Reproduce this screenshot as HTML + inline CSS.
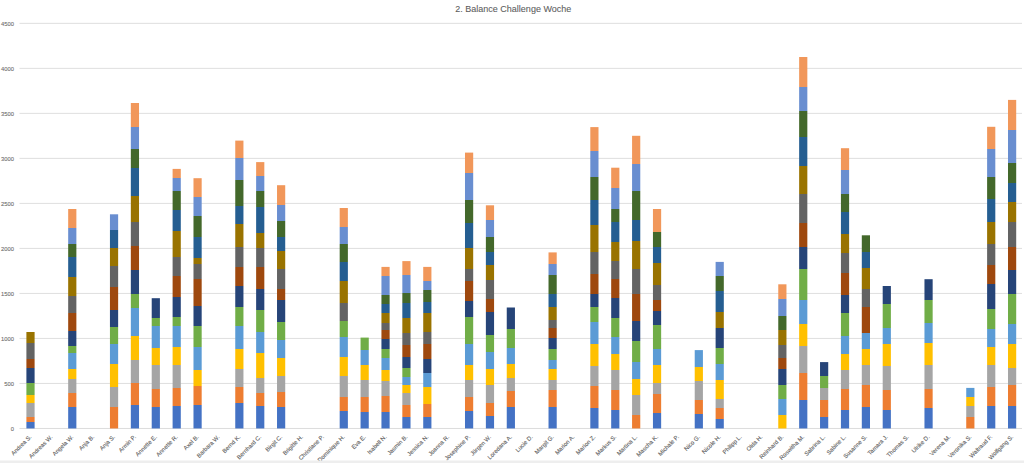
<!DOCTYPE html><html><head><meta charset="utf-8"><style>html,body{margin:0;padding:0;background:#fff;width:1024px;height:463px;overflow:hidden}svg{display:block}text{font-family:"Liberation Sans",sans-serif;stroke:#808080;stroke-width:0.1px}</style></head><body>
<svg width="1024" height="463" viewBox="0 0 1024 463">
<rect x="0" y="0" width="1024" height="463" fill="#fff"/>
<text x="513.3" y="11.6" font-size="9" fill="#595959" text-anchor="middle">2. Balance Challenge Woche</text>
<rect x="19.50" y="427.95" width="1002.50" height="1" fill="#dcdcdc"/>
<text x="13.9" y="430.90" font-size="5.8" fill="#686868" text-anchor="end" stroke="none">0</text>
<rect x="19.50" y="382.94" width="1002.50" height="1" fill="#dfdfdf"/>
<text x="13.9" y="385.89" font-size="5.8" fill="#686868" text-anchor="end" stroke="none">500</text>
<rect x="19.50" y="337.93" width="1002.50" height="1" fill="#dfdfdf"/>
<text x="13.9" y="340.88" font-size="5.8" fill="#686868" text-anchor="end" stroke="none">1000</text>
<rect x="19.50" y="292.92" width="1002.50" height="1" fill="#dfdfdf"/>
<text x="13.9" y="295.87" font-size="5.8" fill="#686868" text-anchor="end" stroke="none">1500</text>
<rect x="19.50" y="247.91" width="1002.50" height="1" fill="#dfdfdf"/>
<text x="13.9" y="250.86" font-size="5.8" fill="#686868" text-anchor="end" stroke="none">2000</text>
<rect x="19.50" y="202.89" width="1002.50" height="1" fill="#dfdfdf"/>
<text x="13.9" y="205.84" font-size="5.8" fill="#686868" text-anchor="end" stroke="none">2500</text>
<rect x="19.50" y="157.88" width="1002.50" height="1" fill="#dfdfdf"/>
<text x="13.9" y="160.83" font-size="5.8" fill="#686868" text-anchor="end" stroke="none">3000</text>
<rect x="19.50" y="112.87" width="1002.50" height="1" fill="#dfdfdf"/>
<text x="13.9" y="115.82" font-size="5.8" fill="#686868" text-anchor="end" stroke="none">3500</text>
<rect x="19.50" y="67.86" width="1002.50" height="1" fill="#dfdfdf"/>
<text x="13.9" y="70.81" font-size="5.8" fill="#686868" text-anchor="end" stroke="none">4000</text>
<rect x="19.50" y="22.85" width="1002.50" height="1" fill="#dfdfdf"/>
<text x="13.9" y="25.80" font-size="5.8" fill="#686868" text-anchor="end" stroke="none">4500</text>
<linearGradient id="g0" gradientUnits="userSpaceOnUse" x1="0" y1="428.45" x2="0" y2="332.00"><stop offset="0.0000" stop-color="#4472C4"/><stop offset="0.0648" stop-color="#4472C4"/><stop offset="0.0648" stop-color="#ED7D31"/><stop offset="0.1218" stop-color="#ED7D31"/><stop offset="0.1218" stop-color="#A5A5A5"/><stop offset="0.2597" stop-color="#A5A5A5"/><stop offset="0.2597" stop-color="#FFC000"/><stop offset="0.3447" stop-color="#FFC000"/><stop offset="0.3447" stop-color="#70AD47"/><stop offset="0.4671" stop-color="#70AD47"/><stop offset="0.4671" stop-color="#264478"/><stop offset="0.6309" stop-color="#264478"/><stop offset="0.6309" stop-color="#9E480E"/><stop offset="0.7190" stop-color="#9E480E"/><stop offset="0.7190" stop-color="#636363"/><stop offset="0.8828" stop-color="#636363"/><stop offset="0.8828" stop-color="#997300"/><stop offset="1.0000" stop-color="#997300"/></linearGradient>
<rect x="26.40" y="332.00" width="8.20" height="96.45" fill="url(#g0)"/>
<linearGradient id="g2" gradientUnits="userSpaceOnUse" x1="0" y1="428.45" x2="0" y2="209.00"><stop offset="0.0000" stop-color="#4472C4"/><stop offset="0.0991" stop-color="#4472C4"/><stop offset="0.0991" stop-color="#ED7D31"/><stop offset="0.1597" stop-color="#ED7D31"/><stop offset="0.1597" stop-color="#A5A5A5"/><stop offset="0.2249" stop-color="#A5A5A5"/><stop offset="0.2249" stop-color="#FFC000"/><stop offset="0.2704" stop-color="#FFC000"/><stop offset="0.2704" stop-color="#5B9BD5"/><stop offset="0.3447" stop-color="#5B9BD5"/><stop offset="0.3447" stop-color="#70AD47"/><stop offset="0.3766" stop-color="#70AD47"/><stop offset="0.3766" stop-color="#264478"/><stop offset="0.4422" stop-color="#264478"/><stop offset="0.4422" stop-color="#9E480E"/><stop offset="0.5247" stop-color="#9E480E"/><stop offset="0.5247" stop-color="#636363"/><stop offset="0.6036" stop-color="#636363"/><stop offset="0.6036" stop-color="#997300"/><stop offset="0.6883" stop-color="#997300"/><stop offset="0.6883" stop-color="#255E91"/><stop offset="0.7794" stop-color="#255E91"/><stop offset="0.7794" stop-color="#43682B"/><stop offset="0.8423" stop-color="#43682B"/><stop offset="0.8423" stop-color="#698ED0"/><stop offset="0.9130" stop-color="#698ED0"/><stop offset="0.9130" stop-color="#F1975A"/><stop offset="1.0000" stop-color="#F1975A"/></linearGradient>
<rect x="68.17" y="209.00" width="8.20" height="219.45" fill="url(#g2)"/>
<linearGradient id="g4" gradientUnits="userSpaceOnUse" x1="0" y1="428.45" x2="0" y2="214.30"><stop offset="0.0000" stop-color="#ED7D31"/><stop offset="0.0992" stop-color="#ED7D31"/><stop offset="0.0992" stop-color="#A5A5A5"/><stop offset="0.1926" stop-color="#A5A5A5"/><stop offset="0.1926" stop-color="#FFC000"/><stop offset="0.3014" stop-color="#FFC000"/><stop offset="0.3014" stop-color="#5B9BD5"/><stop offset="0.3939" stop-color="#5B9BD5"/><stop offset="0.3939" stop-color="#70AD47"/><stop offset="0.4714" stop-color="#70AD47"/><stop offset="0.4714" stop-color="#264478"/><stop offset="0.5517" stop-color="#264478"/><stop offset="0.5517" stop-color="#9E480E"/><stop offset="0.6615" stop-color="#9E480E"/><stop offset="0.6615" stop-color="#636363"/><stop offset="0.7604" stop-color="#636363"/><stop offset="0.7604" stop-color="#997300"/><stop offset="0.8431" stop-color="#997300"/><stop offset="0.8431" stop-color="#255E91"/><stop offset="0.9276" stop-color="#255E91"/><stop offset="0.9276" stop-color="#698ED0"/><stop offset="1.0000" stop-color="#698ED0"/></linearGradient>
<rect x="109.94" y="214.30" width="8.20" height="214.15" fill="url(#g4)"/>
<linearGradient id="g5" gradientUnits="userSpaceOnUse" x1="0" y1="428.45" x2="0" y2="103.00"><stop offset="0.0000" stop-color="#4472C4"/><stop offset="0.0708" stop-color="#4472C4"/><stop offset="0.0708" stop-color="#ED7D31"/><stop offset="0.1400" stop-color="#ED7D31"/><stop offset="0.1400" stop-color="#A5A5A5"/><stop offset="0.2100" stop-color="#A5A5A5"/><stop offset="0.2100" stop-color="#FFC000"/><stop offset="0.2841" stop-color="#FFC000"/><stop offset="0.2841" stop-color="#5B9BD5"/><stop offset="0.3716" stop-color="#5B9BD5"/><stop offset="0.3716" stop-color="#70AD47"/><stop offset="0.4119" stop-color="#70AD47"/><stop offset="0.4119" stop-color="#264478"/><stop offset="0.4872" stop-color="#264478"/><stop offset="0.4872" stop-color="#9E480E"/><stop offset="0.5618" stop-color="#9E480E"/><stop offset="0.5618" stop-color="#636363"/><stop offset="0.6356" stop-color="#636363"/><stop offset="0.6356" stop-color="#997300"/><stop offset="0.7152" stop-color="#997300"/><stop offset="0.7152" stop-color="#255E91"/><stop offset="0.7997" stop-color="#255E91"/><stop offset="0.7997" stop-color="#43682B"/><stop offset="0.8574" stop-color="#43682B"/><stop offset="0.8574" stop-color="#698ED0"/><stop offset="0.9259" stop-color="#698ED0"/><stop offset="0.9259" stop-color="#F1975A"/><stop offset="1.0000" stop-color="#F1975A"/></linearGradient>
<rect x="130.83" y="103.00" width="8.20" height="325.45" fill="url(#g5)"/>
<linearGradient id="g6" gradientUnits="userSpaceOnUse" x1="0" y1="428.45" x2="0" y2="298.20"><stop offset="0.0000" stop-color="#4472C4"/><stop offset="0.1670" stop-color="#4472C4"/><stop offset="0.1670" stop-color="#ED7D31"/><stop offset="0.3036" stop-color="#ED7D31"/><stop offset="0.3036" stop-color="#A5A5A5"/><stop offset="0.4864" stop-color="#A5A5A5"/><stop offset="0.4864" stop-color="#FFC000"/><stop offset="0.6207" stop-color="#FFC000"/><stop offset="0.6207" stop-color="#5B9BD5"/><stop offset="0.7835" stop-color="#5B9BD5"/><stop offset="0.7835" stop-color="#70AD47"/><stop offset="0.8518" stop-color="#70AD47"/><stop offset="0.8518" stop-color="#264478"/><stop offset="1.0000" stop-color="#264478"/></linearGradient>
<rect x="151.71" y="298.20" width="8.20" height="130.25" fill="url(#g6)"/>
<linearGradient id="g7" gradientUnits="userSpaceOnUse" x1="0" y1="428.45" x2="0" y2="168.90"><stop offset="0.0000" stop-color="#4472C4"/><stop offset="0.0869" stop-color="#4472C4"/><stop offset="0.0869" stop-color="#ED7D31"/><stop offset="0.1562" stop-color="#ED7D31"/><stop offset="0.1562" stop-color="#A5A5A5"/><stop offset="0.2441" stop-color="#A5A5A5"/><stop offset="0.2441" stop-color="#FFC000"/><stop offset="0.3154" stop-color="#FFC000"/><stop offset="0.3154" stop-color="#5B9BD5"/><stop offset="0.3947" stop-color="#5B9BD5"/><stop offset="0.3947" stop-color="#70AD47"/><stop offset="0.4294" stop-color="#70AD47"/><stop offset="0.4294" stop-color="#264478"/><stop offset="0.5065" stop-color="#264478"/><stop offset="0.5065" stop-color="#9E480E"/><stop offset="0.5885" stop-color="#9E480E"/><stop offset="0.5885" stop-color="#636363"/><stop offset="0.6590" stop-color="#636363"/><stop offset="0.6590" stop-color="#997300"/><stop offset="0.7604" stop-color="#997300"/><stop offset="0.7604" stop-color="#255E91"/><stop offset="0.8424" stop-color="#255E91"/><stop offset="0.8424" stop-color="#43682B"/><stop offset="0.9160" stop-color="#43682B"/><stop offset="0.9160" stop-color="#698ED0"/><stop offset="0.9642" stop-color="#698ED0"/><stop offset="0.9642" stop-color="#F1975A"/><stop offset="1.0000" stop-color="#F1975A"/></linearGradient>
<rect x="172.60" y="168.90" width="8.20" height="259.55" fill="url(#g7)"/>
<linearGradient id="g8" gradientUnits="userSpaceOnUse" x1="0" y1="428.45" x2="0" y2="178.20"><stop offset="0.0000" stop-color="#4472C4"/><stop offset="0.0949" stop-color="#4472C4"/><stop offset="0.0949" stop-color="#ED7D31"/><stop offset="0.1700" stop-color="#ED7D31"/><stop offset="0.1700" stop-color="#FFC000"/><stop offset="0.2320" stop-color="#FFC000"/><stop offset="0.2320" stop-color="#5B9BD5"/><stop offset="0.3271" stop-color="#5B9BD5"/><stop offset="0.3271" stop-color="#70AD47"/><stop offset="0.4082" stop-color="#70AD47"/><stop offset="0.4082" stop-color="#264478"/><stop offset="0.4905" stop-color="#264478"/><stop offset="0.4905" stop-color="#9E480E"/><stop offset="0.5956" stop-color="#9E480E"/><stop offset="0.5956" stop-color="#636363"/><stop offset="0.6567" stop-color="#636363"/><stop offset="0.6567" stop-color="#997300"/><stop offset="0.6807" stop-color="#997300"/><stop offset="0.6807" stop-color="#255E91"/><stop offset="0.7658" stop-color="#255E91"/><stop offset="0.7658" stop-color="#43682B"/><stop offset="0.8490" stop-color="#43682B"/><stop offset="0.8490" stop-color="#698ED0"/><stop offset="0.9257" stop-color="#698ED0"/><stop offset="0.9257" stop-color="#F1975A"/><stop offset="1.0000" stop-color="#F1975A"/></linearGradient>
<rect x="193.48" y="178.20" width="8.20" height="250.25" fill="url(#g8)"/>
<linearGradient id="g10" gradientUnits="userSpaceOnUse" x1="0" y1="428.45" x2="0" y2="140.60"><stop offset="0.0000" stop-color="#4472C4"/><stop offset="0.0895" stop-color="#4472C4"/><stop offset="0.0895" stop-color="#ED7D31"/><stop offset="0.1454" stop-color="#ED7D31"/><stop offset="0.1454" stop-color="#A5A5A5"/><stop offset="0.2062" stop-color="#A5A5A5"/><stop offset="0.2062" stop-color="#FFC000"/><stop offset="0.2757" stop-color="#FFC000"/><stop offset="0.2757" stop-color="#5B9BD5"/><stop offset="0.3566" stop-color="#5B9BD5"/><stop offset="0.3566" stop-color="#70AD47"/><stop offset="0.4202" stop-color="#70AD47"/><stop offset="0.4202" stop-color="#264478"/><stop offset="0.4959" stop-color="#264478"/><stop offset="0.4959" stop-color="#9E480E"/><stop offset="0.5595" stop-color="#9E480E"/><stop offset="0.5595" stop-color="#636363"/><stop offset="0.6290" stop-color="#636363"/><stop offset="0.6290" stop-color="#997300"/><stop offset="0.7092" stop-color="#997300"/><stop offset="0.7092" stop-color="#255E91"/><stop offset="0.7745" stop-color="#255E91"/><stop offset="0.7745" stop-color="#43682B"/><stop offset="0.8642" stop-color="#43682B"/><stop offset="0.8642" stop-color="#698ED0"/><stop offset="0.9392" stop-color="#698ED0"/><stop offset="0.9392" stop-color="#F1975A"/><stop offset="1.0000" stop-color="#F1975A"/></linearGradient>
<rect x="235.25" y="140.60" width="8.20" height="287.85" fill="url(#g10)"/>
<linearGradient id="g11" gradientUnits="userSpaceOnUse" x1="0" y1="428.45" x2="0" y2="162.10"><stop offset="0.0000" stop-color="#4472C4"/><stop offset="0.0828" stop-color="#4472C4"/><stop offset="0.0828" stop-color="#ED7D31"/><stop offset="0.1316" stop-color="#ED7D31"/><stop offset="0.1316" stop-color="#A5A5A5"/><stop offset="0.1879" stop-color="#A5A5A5"/><stop offset="0.1879" stop-color="#FFC000"/><stop offset="0.2840" stop-color="#FFC000"/><stop offset="0.2840" stop-color="#5B9BD5"/><stop offset="0.3636" stop-color="#5B9BD5"/><stop offset="0.3636" stop-color="#70AD47"/><stop offset="0.4447" stop-color="#70AD47"/><stop offset="0.4447" stop-color="#264478"/><stop offset="0.5228" stop-color="#264478"/><stop offset="0.5228" stop-color="#9E480E"/><stop offset="0.6065" stop-color="#9E480E"/><stop offset="0.6065" stop-color="#636363"/><stop offset="0.6771" stop-color="#636363"/><stop offset="0.6771" stop-color="#997300"/><stop offset="0.7334" stop-color="#997300"/><stop offset="0.7334" stop-color="#255E91"/><stop offset="0.8333" stop-color="#255E91"/><stop offset="0.8333" stop-color="#43682B"/><stop offset="0.8926" stop-color="#43682B"/><stop offset="0.8926" stop-color="#698ED0"/><stop offset="0.9463" stop-color="#698ED0"/><stop offset="0.9463" stop-color="#F1975A"/><stop offset="1.0000" stop-color="#F1975A"/></linearGradient>
<rect x="256.13" y="162.10" width="8.20" height="266.35" fill="url(#g11)"/>
<linearGradient id="g12" gradientUnits="userSpaceOnUse" x1="0" y1="428.45" x2="0" y2="185.20"><stop offset="0.0000" stop-color="#4472C4"/><stop offset="0.0894" stop-color="#4472C4"/><stop offset="0.0894" stop-color="#ED7D31"/><stop offset="0.1511" stop-color="#ED7D31"/><stop offset="0.1511" stop-color="#A5A5A5"/><stop offset="0.2140" stop-color="#A5A5A5"/><stop offset="0.2140" stop-color="#FFC000"/><stop offset="0.2884" stop-color="#FFC000"/><stop offset="0.2884" stop-color="#5B9BD5"/><stop offset="0.3620" stop-color="#5B9BD5"/><stop offset="0.3620" stop-color="#70AD47"/><stop offset="0.4376" stop-color="#70AD47"/><stop offset="0.4376" stop-color="#264478"/><stop offset="0.5281" stop-color="#264478"/><stop offset="0.5281" stop-color="#9E480E"/><stop offset="0.5753" stop-color="#9E480E"/><stop offset="0.5753" stop-color="#636363"/><stop offset="0.6571" stop-color="#636363"/><stop offset="0.6571" stop-color="#997300"/><stop offset="0.7311" stop-color="#997300"/><stop offset="0.7311" stop-color="#255E91"/><stop offset="0.7879" stop-color="#255E91"/><stop offset="0.7879" stop-color="#43682B"/><stop offset="0.8528" stop-color="#43682B"/><stop offset="0.8528" stop-color="#698ED0"/><stop offset="0.9174" stop-color="#698ED0"/><stop offset="0.9174" stop-color="#F1975A"/><stop offset="1.0000" stop-color="#F1975A"/></linearGradient>
<rect x="277.02" y="185.20" width="8.20" height="243.25" fill="url(#g12)"/>
<linearGradient id="g15" gradientUnits="userSpaceOnUse" x1="0" y1="428.45" x2="0" y2="208.00"><stop offset="0.0000" stop-color="#4472C4"/><stop offset="0.0773" stop-color="#4472C4"/><stop offset="0.0773" stop-color="#ED7D31"/><stop offset="0.1418" stop-color="#ED7D31"/><stop offset="0.1418" stop-color="#A5A5A5"/><stop offset="0.2361" stop-color="#A5A5A5"/><stop offset="0.2361" stop-color="#FFC000"/><stop offset="0.3259" stop-color="#FFC000"/><stop offset="0.3259" stop-color="#5B9BD5"/><stop offset="0.4166" stop-color="#5B9BD5"/><stop offset="0.4166" stop-color="#70AD47"/><stop offset="0.4874" stop-color="#70AD47"/><stop offset="0.4874" stop-color="#636363"/><stop offset="0.5691" stop-color="#636363"/><stop offset="0.5691" stop-color="#997300"/><stop offset="0.6680" stop-color="#997300"/><stop offset="0.6680" stop-color="#255E91"/><stop offset="0.7569" stop-color="#255E91"/><stop offset="0.7569" stop-color="#43682B"/><stop offset="0.8362" stop-color="#43682B"/><stop offset="0.8362" stop-color="#698ED0"/><stop offset="0.9147" stop-color="#698ED0"/><stop offset="0.9147" stop-color="#F1975A"/><stop offset="1.0000" stop-color="#F1975A"/></linearGradient>
<rect x="339.68" y="208.00" width="8.20" height="220.45" fill="url(#g15)"/>
<linearGradient id="g16" gradientUnits="userSpaceOnUse" x1="0" y1="428.45" x2="0" y2="337.60"><stop offset="0.0000" stop-color="#4472C4"/><stop offset="0.1789" stop-color="#4472C4"/><stop offset="0.1789" stop-color="#ED7D31"/><stop offset="0.3440" stop-color="#ED7D31"/><stop offset="0.3440" stop-color="#A5A5A5"/><stop offset="0.5322" stop-color="#A5A5A5"/><stop offset="0.5322" stop-color="#FFC000"/><stop offset="0.7028" stop-color="#FFC000"/><stop offset="0.7028" stop-color="#5B9BD5"/><stop offset="0.8679" stop-color="#5B9BD5"/><stop offset="0.8679" stop-color="#70AD47"/><stop offset="1.0000" stop-color="#70AD47"/></linearGradient>
<rect x="360.56" y="337.60" width="8.20" height="90.85" fill="url(#g16)"/>
<linearGradient id="g17" gradientUnits="userSpaceOnUse" x1="0" y1="428.45" x2="0" y2="266.90"><stop offset="0.0000" stop-color="#4472C4"/><stop offset="0.1006" stop-color="#4472C4"/><stop offset="0.1006" stop-color="#ED7D31"/><stop offset="0.2015" stop-color="#ED7D31"/><stop offset="0.2015" stop-color="#A5A5A5"/><stop offset="0.2943" stop-color="#A5A5A5"/><stop offset="0.2943" stop-color="#FFC000"/><stop offset="0.3593" stop-color="#FFC000"/><stop offset="0.3593" stop-color="#5B9BD5"/><stop offset="0.4373" stop-color="#5B9BD5"/><stop offset="0.4373" stop-color="#70AD47"/><stop offset="0.4912" stop-color="#70AD47"/><stop offset="0.4912" stop-color="#264478"/><stop offset="0.5537" stop-color="#264478"/><stop offset="0.5537" stop-color="#9E480E"/><stop offset="0.6069" stop-color="#9E480E"/><stop offset="0.6069" stop-color="#636363"/><stop offset="0.6534" stop-color="#636363"/><stop offset="0.6534" stop-color="#997300"/><stop offset="0.7153" stop-color="#997300"/><stop offset="0.7153" stop-color="#255E91"/><stop offset="0.7673" stop-color="#255E91"/><stop offset="0.7673" stop-color="#43682B"/><stop offset="0.8248" stop-color="#43682B"/><stop offset="0.8248" stop-color="#698ED0"/><stop offset="0.9455" stop-color="#698ED0"/><stop offset="0.9455" stop-color="#F1975A"/><stop offset="1.0000" stop-color="#F1975A"/></linearGradient>
<rect x="381.44" y="266.90" width="8.20" height="161.55" fill="url(#g17)"/>
<linearGradient id="g18" gradientUnits="userSpaceOnUse" x1="0" y1="428.45" x2="0" y2="261.10"><stop offset="0.0000" stop-color="#4472C4"/><stop offset="0.0672" stop-color="#4472C4"/><stop offset="0.0672" stop-color="#ED7D31"/><stop offset="0.1419" stop-color="#ED7D31"/><stop offset="0.1419" stop-color="#A5A5A5"/><stop offset="0.2094" stop-color="#A5A5A5"/><stop offset="0.2094" stop-color="#FFC000"/><stop offset="0.2620" stop-color="#FFC000"/><stop offset="0.2620" stop-color="#5B9BD5"/><stop offset="0.3068" stop-color="#5B9BD5"/><stop offset="0.3068" stop-color="#70AD47"/><stop offset="0.3636" stop-color="#70AD47"/><stop offset="0.3636" stop-color="#264478"/><stop offset="0.4264" stop-color="#264478"/><stop offset="0.4264" stop-color="#9E480E"/><stop offset="0.4969" stop-color="#9E480E"/><stop offset="0.4969" stop-color="#636363"/><stop offset="0.5686" stop-color="#636363"/><stop offset="0.5686" stop-color="#997300"/><stop offset="0.6588" stop-color="#997300"/><stop offset="0.6588" stop-color="#255E91"/><stop offset="0.7526" stop-color="#255E91"/><stop offset="0.7526" stop-color="#43682B"/><stop offset="0.8112" stop-color="#43682B"/><stop offset="0.8112" stop-color="#698ED0"/><stop offset="0.9175" stop-color="#698ED0"/><stop offset="0.9175" stop-color="#F1975A"/><stop offset="1.0000" stop-color="#F1975A"/></linearGradient>
<rect x="402.33" y="261.10" width="8.20" height="167.35" fill="url(#g18)"/>
<linearGradient id="g19" gradientUnits="userSpaceOnUse" x1="0" y1="428.45" x2="0" y2="266.90"><stop offset="0.0000" stop-color="#4472C4"/><stop offset="0.0696" stop-color="#4472C4"/><stop offset="0.0696" stop-color="#ED7D31"/><stop offset="0.1501" stop-color="#ED7D31"/><stop offset="0.1501" stop-color="#FFC000"/><stop offset="0.2591" stop-color="#FFC000"/><stop offset="0.2591" stop-color="#5B9BD5"/><stop offset="0.3408" stop-color="#5B9BD5"/><stop offset="0.3408" stop-color="#264478"/><stop offset="0.4293" stop-color="#264478"/><stop offset="0.4293" stop-color="#9E480E"/><stop offset="0.5221" stop-color="#9E480E"/><stop offset="0.5221" stop-color="#636363"/><stop offset="0.5952" stop-color="#636363"/><stop offset="0.5952" stop-color="#997300"/><stop offset="0.7165" stop-color="#997300"/><stop offset="0.7165" stop-color="#255E91"/><stop offset="0.7852" stop-color="#255E91"/><stop offset="0.7852" stop-color="#43682B"/><stop offset="0.8570" stop-color="#43682B"/><stop offset="0.8570" stop-color="#698ED0"/><stop offset="0.9127" stop-color="#698ED0"/><stop offset="0.9127" stop-color="#F1975A"/><stop offset="1.0000" stop-color="#F1975A"/></linearGradient>
<rect x="423.22" y="266.90" width="8.20" height="161.55" fill="url(#g19)"/>
<linearGradient id="g21" gradientUnits="userSpaceOnUse" x1="0" y1="428.45" x2="0" y2="152.60"><stop offset="0.0000" stop-color="#4472C4"/><stop offset="0.0618" stop-color="#4472C4"/><stop offset="0.0618" stop-color="#ED7D31"/><stop offset="0.1151" stop-color="#ED7D31"/><stop offset="0.1151" stop-color="#A5A5A5"/><stop offset="0.1753" stop-color="#A5A5A5"/><stop offset="0.1753" stop-color="#FFC000"/><stop offset="0.2286" stop-color="#FFC000"/><stop offset="0.2286" stop-color="#5B9BD5"/><stop offset="0.3069" stop-color="#5B9BD5"/><stop offset="0.3069" stop-color="#70AD47"/><stop offset="0.4047" stop-color="#70AD47"/><stop offset="0.4047" stop-color="#264478"/><stop offset="0.4613" stop-color="#264478"/><stop offset="0.4613" stop-color="#9E480E"/><stop offset="0.5338" stop-color="#9E480E"/><stop offset="0.5338" stop-color="#636363"/><stop offset="0.5795" stop-color="#636363"/><stop offset="0.5795" stop-color="#997300"/><stop offset="0.6538" stop-color="#997300"/><stop offset="0.6538" stop-color="#255E91"/><stop offset="0.7444" stop-color="#255E91"/><stop offset="0.7444" stop-color="#43682B"/><stop offset="0.8271" stop-color="#43682B"/><stop offset="0.8271" stop-color="#698ED0"/><stop offset="0.9253" stop-color="#698ED0"/><stop offset="0.9253" stop-color="#F1975A"/><stop offset="1.0000" stop-color="#F1975A"/></linearGradient>
<rect x="464.99" y="152.60" width="8.20" height="275.85" fill="url(#g21)"/>
<linearGradient id="g22" gradientUnits="userSpaceOnUse" x1="0" y1="428.45" x2="0" y2="205.30"><stop offset="0.0000" stop-color="#4472C4"/><stop offset="0.0536" stop-color="#4472C4"/><stop offset="0.0536" stop-color="#ED7D31"/><stop offset="0.1154" stop-color="#ED7D31"/><stop offset="0.1154" stop-color="#A5A5A5"/><stop offset="0.1929" stop-color="#A5A5A5"/><stop offset="0.1929" stop-color="#FFC000"/><stop offset="0.2669" stop-color="#FFC000"/><stop offset="0.2669" stop-color="#5B9BD5"/><stop offset="0.3421" stop-color="#5B9BD5"/><stop offset="0.3421" stop-color="#70AD47"/><stop offset="0.4188" stop-color="#70AD47"/><stop offset="0.4188" stop-color="#264478"/><stop offset="0.5218" stop-color="#264478"/><stop offset="0.5218" stop-color="#9E480E"/><stop offset="0.5823" stop-color="#9E480E"/><stop offset="0.5823" stop-color="#636363"/><stop offset="0.6657" stop-color="#636363"/><stop offset="0.6657" stop-color="#997300"/><stop offset="0.7329" stop-color="#997300"/><stop offset="0.7329" stop-color="#255E91"/><stop offset="0.7925" stop-color="#255E91"/><stop offset="0.7925" stop-color="#43682B"/><stop offset="0.8566" stop-color="#43682B"/><stop offset="0.8566" stop-color="#698ED0"/><stop offset="0.9319" stop-color="#698ED0"/><stop offset="0.9319" stop-color="#F1975A"/><stop offset="1.0000" stop-color="#F1975A"/></linearGradient>
<rect x="485.87" y="205.30" width="8.20" height="223.15" fill="url(#g22)"/>
<linearGradient id="g23" gradientUnits="userSpaceOnUse" x1="0" y1="428.45" x2="0" y2="307.50"><stop offset="0.0000" stop-color="#4472C4"/><stop offset="0.1798" stop-color="#4472C4"/><stop offset="0.1798" stop-color="#ED7D31"/><stop offset="0.3105" stop-color="#ED7D31"/><stop offset="0.3105" stop-color="#A5A5A5"/><stop offset="0.4179" stop-color="#A5A5A5"/><stop offset="0.4179" stop-color="#FFC000"/><stop offset="0.5320" stop-color="#FFC000"/><stop offset="0.5320" stop-color="#5B9BD5"/><stop offset="0.6627" stop-color="#5B9BD5"/><stop offset="0.6627" stop-color="#70AD47"/><stop offset="0.8222" stop-color="#70AD47"/><stop offset="0.8222" stop-color="#264478"/><stop offset="1.0000" stop-color="#264478"/></linearGradient>
<rect x="506.75" y="307.50" width="8.20" height="120.95" fill="url(#g23)"/>
<linearGradient id="g25" gradientUnits="userSpaceOnUse" x1="0" y1="428.45" x2="0" y2="252.40"><stop offset="0.0000" stop-color="#4472C4"/><stop offset="0.1235" stop-color="#4472C4"/><stop offset="0.1235" stop-color="#ED7D31"/><stop offset="0.2173" stop-color="#ED7D31"/><stop offset="0.2173" stop-color="#A5A5A5"/><stop offset="0.2775" stop-color="#A5A5A5"/><stop offset="0.2775" stop-color="#FFC000"/><stop offset="0.3371" stop-color="#FFC000"/><stop offset="0.3371" stop-color="#5B9BD5"/><stop offset="0.3911" stop-color="#5B9BD5"/><stop offset="0.3911" stop-color="#70AD47"/><stop offset="0.4507" stop-color="#70AD47"/><stop offset="0.4507" stop-color="#264478"/><stop offset="0.5138" stop-color="#264478"/><stop offset="0.5138" stop-color="#9E480E"/><stop offset="0.5734" stop-color="#9E480E"/><stop offset="0.5734" stop-color="#636363"/><stop offset="0.6149" stop-color="#636363"/><stop offset="0.6149" stop-color="#997300"/><stop offset="0.6921" stop-color="#997300"/><stop offset="0.6921" stop-color="#255E91"/><stop offset="0.7614" stop-color="#255E91"/><stop offset="0.7614" stop-color="#43682B"/><stop offset="0.8722" stop-color="#43682B"/><stop offset="0.8722" stop-color="#698ED0"/><stop offset="0.9364" stop-color="#698ED0"/><stop offset="0.9364" stop-color="#F1975A"/><stop offset="1.0000" stop-color="#F1975A"/></linearGradient>
<rect x="548.52" y="252.40" width="8.20" height="176.05" fill="url(#g25)"/>
<linearGradient id="g27" gradientUnits="userSpaceOnUse" x1="0" y1="428.45" x2="0" y2="127.10"><stop offset="0.0000" stop-color="#4472C4"/><stop offset="0.0682" stop-color="#4472C4"/><stop offset="0.0682" stop-color="#ED7D31"/><stop offset="0.1412" stop-color="#ED7D31"/><stop offset="0.1412" stop-color="#A5A5A5"/><stop offset="0.2059" stop-color="#A5A5A5"/><stop offset="0.2059" stop-color="#FFC000"/><stop offset="0.2799" stop-color="#FFC000"/><stop offset="0.2799" stop-color="#5B9BD5"/><stop offset="0.3532" stop-color="#5B9BD5"/><stop offset="0.3532" stop-color="#70AD47"/><stop offset="0.4014" stop-color="#70AD47"/><stop offset="0.4014" stop-color="#264478"/><stop offset="0.4452" stop-color="#264478"/><stop offset="0.4452" stop-color="#9E480E"/><stop offset="0.5119" stop-color="#9E480E"/><stop offset="0.5119" stop-color="#636363"/><stop offset="0.5842" stop-color="#636363"/><stop offset="0.5842" stop-color="#997300"/><stop offset="0.6758" stop-color="#997300"/><stop offset="0.6758" stop-color="#255E91"/><stop offset="0.7574" stop-color="#255E91"/><stop offset="0.7574" stop-color="#43682B"/><stop offset="0.8347" stop-color="#43682B"/><stop offset="0.8347" stop-color="#698ED0"/><stop offset="0.9220" stop-color="#698ED0"/><stop offset="0.9220" stop-color="#F1975A"/><stop offset="1.0000" stop-color="#F1975A"/></linearGradient>
<rect x="590.30" y="127.10" width="8.20" height="301.35" fill="url(#g27)"/>
<linearGradient id="g28" gradientUnits="userSpaceOnUse" x1="0" y1="428.45" x2="0" y2="167.70"><stop offset="0.0000" stop-color="#4472C4"/><stop offset="0.0692" stop-color="#4472C4"/><stop offset="0.0692" stop-color="#ED7D31"/><stop offset="0.1459" stop-color="#ED7D31"/><stop offset="0.1459" stop-color="#A5A5A5"/><stop offset="0.2226" stop-color="#A5A5A5"/><stop offset="0.2226" stop-color="#FFC000"/><stop offset="0.2863" stop-color="#FFC000"/><stop offset="0.2863" stop-color="#5B9BD5"/><stop offset="0.3515" stop-color="#5B9BD5"/><stop offset="0.3515" stop-color="#70AD47"/><stop offset="0.4228" stop-color="#70AD47"/><stop offset="0.4228" stop-color="#264478"/><stop offset="0.4995" stop-color="#264478"/><stop offset="0.4995" stop-color="#9E480E"/><stop offset="0.5716" stop-color="#9E480E"/><stop offset="0.5716" stop-color="#636363"/><stop offset="0.6437" stop-color="#636363"/><stop offset="0.6437" stop-color="#997300"/><stop offset="0.7139" stop-color="#997300"/><stop offset="0.7139" stop-color="#255E91"/><stop offset="0.7925" stop-color="#255E91"/><stop offset="0.7925" stop-color="#43682B"/><stop offset="0.8435" stop-color="#43682B"/><stop offset="0.8435" stop-color="#698ED0"/><stop offset="0.9214" stop-color="#698ED0"/><stop offset="0.9214" stop-color="#F1975A"/><stop offset="1.0000" stop-color="#F1975A"/></linearGradient>
<rect x="611.18" y="167.70" width="8.20" height="260.75" fill="url(#g28)"/>
<linearGradient id="g29" gradientUnits="userSpaceOnUse" x1="0" y1="428.45" x2="0" y2="135.80"><stop offset="0.0000" stop-color="#ED7D31"/><stop offset="0.0453" stop-color="#ED7D31"/><stop offset="0.0453" stop-color="#A5A5A5"/><stop offset="0.1153" stop-color="#A5A5A5"/><stop offset="0.1153" stop-color="#FFC000"/><stop offset="0.1693" stop-color="#FFC000"/><stop offset="0.1693" stop-color="#5B9BD5"/><stop offset="0.2267" stop-color="#5B9BD5"/><stop offset="0.2267" stop-color="#70AD47"/><stop offset="0.2978" stop-color="#70AD47"/><stop offset="0.2978" stop-color="#264478"/><stop offset="0.3682" stop-color="#264478"/><stop offset="0.3682" stop-color="#9E480E"/><stop offset="0.4584" stop-color="#9E480E"/><stop offset="0.4584" stop-color="#636363"/><stop offset="0.5462" stop-color="#636363"/><stop offset="0.5462" stop-color="#997300"/><stop offset="0.6419" stop-color="#997300"/><stop offset="0.6419" stop-color="#255E91"/><stop offset="0.7130" stop-color="#255E91"/><stop offset="0.7130" stop-color="#43682B"/><stop offset="0.8097" stop-color="#43682B"/><stop offset="0.8097" stop-color="#698ED0"/><stop offset="0.9040" stop-color="#698ED0"/><stop offset="0.9040" stop-color="#F1975A"/><stop offset="1.0000" stop-color="#F1975A"/></linearGradient>
<rect x="632.07" y="135.80" width="8.20" height="292.65" fill="url(#g29)"/>
<linearGradient id="g30" gradientUnits="userSpaceOnUse" x1="0" y1="428.45" x2="0" y2="209.00"><stop offset="0.0000" stop-color="#4472C4"/><stop offset="0.0704" stop-color="#4472C4"/><stop offset="0.0704" stop-color="#ED7D31"/><stop offset="0.1561" stop-color="#ED7D31"/><stop offset="0.1561" stop-color="#A5A5A5"/><stop offset="0.2053" stop-color="#A5A5A5"/><stop offset="0.2053" stop-color="#FFC000"/><stop offset="0.2910" stop-color="#FFC000"/><stop offset="0.2910" stop-color="#5B9BD5"/><stop offset="0.3616" stop-color="#5B9BD5"/><stop offset="0.3616" stop-color="#70AD47"/><stop offset="0.4714" stop-color="#70AD47"/><stop offset="0.4714" stop-color="#264478"/><stop offset="0.5370" stop-color="#264478"/><stop offset="0.5370" stop-color="#9E480E"/><stop offset="0.5876" stop-color="#9E480E"/><stop offset="0.5876" stop-color="#636363"/><stop offset="0.6519" stop-color="#636363"/><stop offset="0.6519" stop-color="#997300"/><stop offset="0.7535" stop-color="#997300"/><stop offset="0.7535" stop-color="#255E91"/><stop offset="0.8250" stop-color="#255E91"/><stop offset="0.8250" stop-color="#43682B"/><stop offset="0.8938" stop-color="#43682B"/><stop offset="0.8938" stop-color="#F1975A"/><stop offset="1.0000" stop-color="#F1975A"/></linearGradient>
<rect x="652.95" y="209.00" width="8.20" height="219.45" fill="url(#g30)"/>
<linearGradient id="g32" gradientUnits="userSpaceOnUse" x1="0" y1="428.45" x2="0" y2="350.10"><stop offset="0.0000" stop-color="#4472C4"/><stop offset="0.1908" stop-color="#4472C4"/><stop offset="0.1908" stop-color="#ED7D31"/><stop offset="0.3606" stop-color="#ED7D31"/><stop offset="0.3606" stop-color="#A5A5A5"/><stop offset="0.6069" stop-color="#A5A5A5"/><stop offset="0.6069" stop-color="#FFC000"/><stop offset="0.7830" stop-color="#FFC000"/><stop offset="0.7830" stop-color="#5B9BD5"/><stop offset="1.0000" stop-color="#5B9BD5"/></linearGradient>
<rect x="694.72" y="350.10" width="8.20" height="78.35" fill="url(#g32)"/>
<linearGradient id="g33" gradientUnits="userSpaceOnUse" x1="0" y1="428.45" x2="0" y2="261.90"><stop offset="0.0000" stop-color="#4472C4"/><stop offset="0.0597" stop-color="#4472C4"/><stop offset="0.0597" stop-color="#ED7D31"/><stop offset="0.1246" stop-color="#ED7D31"/><stop offset="0.1246" stop-color="#A5A5A5"/><stop offset="0.1756" stop-color="#A5A5A5"/><stop offset="0.1756" stop-color="#FFC000"/><stop offset="0.2885" stop-color="#FFC000"/><stop offset="0.2885" stop-color="#5B9BD5"/><stop offset="0.3876" stop-color="#5B9BD5"/><stop offset="0.3876" stop-color="#70AD47"/><stop offset="0.4854" stop-color="#70AD47"/><stop offset="0.4854" stop-color="#264478"/><stop offset="0.6013" stop-color="#264478"/><stop offset="0.6013" stop-color="#997300"/><stop offset="0.6980" stop-color="#997300"/><stop offset="0.6980" stop-color="#255E91"/><stop offset="0.8241" stop-color="#255E91"/><stop offset="0.8241" stop-color="#43682B"/><stop offset="0.9171" stop-color="#43682B"/><stop offset="0.9171" stop-color="#698ED0"/><stop offset="1.0000" stop-color="#698ED0"/></linearGradient>
<rect x="715.61" y="261.90" width="8.20" height="166.55" fill="url(#g33)"/>
<linearGradient id="g36" gradientUnits="userSpaceOnUse" x1="0" y1="428.45" x2="0" y2="284.30"><stop offset="0.0000" stop-color="#FFC000"/><stop offset="0.0954" stop-color="#FFC000"/><stop offset="0.0954" stop-color="#5B9BD5"/><stop offset="0.2029" stop-color="#5B9BD5"/><stop offset="0.2029" stop-color="#70AD47"/><stop offset="0.3042" stop-color="#70AD47"/><stop offset="0.3042" stop-color="#264478"/><stop offset="0.4124" stop-color="#264478"/><stop offset="0.4124" stop-color="#9E480E"/><stop offset="0.4887" stop-color="#9E480E"/><stop offset="0.4887" stop-color="#636363"/><stop offset="0.5817" stop-color="#636363"/><stop offset="0.5817" stop-color="#997300"/><stop offset="0.6830" stop-color="#997300"/><stop offset="0.6830" stop-color="#43682B"/><stop offset="0.7815" stop-color="#43682B"/><stop offset="0.7815" stop-color="#698ED0"/><stop offset="0.8994" stop-color="#698ED0"/><stop offset="0.8994" stop-color="#F1975A"/><stop offset="1.0000" stop-color="#F1975A"/></linearGradient>
<rect x="778.26" y="284.30" width="8.20" height="144.15" fill="url(#g36)"/>
<linearGradient id="g37" gradientUnits="userSpaceOnUse" x1="0" y1="428.45" x2="0" y2="57.00"><stop offset="0.0000" stop-color="#4472C4"/><stop offset="0.0755" stop-color="#4472C4"/><stop offset="0.0755" stop-color="#ED7D31"/><stop offset="0.1482" stop-color="#ED7D31"/><stop offset="0.1482" stop-color="#A5A5A5"/><stop offset="0.2225" stop-color="#A5A5A5"/><stop offset="0.2225" stop-color="#FFC000"/><stop offset="0.2817" stop-color="#FFC000"/><stop offset="0.2817" stop-color="#5B9BD5"/><stop offset="0.3450" stop-color="#5B9BD5"/><stop offset="0.3450" stop-color="#70AD47"/><stop offset="0.4303" stop-color="#70AD47"/><stop offset="0.4303" stop-color="#264478"/><stop offset="0.4874" stop-color="#264478"/><stop offset="0.4874" stop-color="#9E480E"/><stop offset="0.5528" stop-color="#9E480E"/><stop offset="0.5528" stop-color="#636363"/><stop offset="0.6306" stop-color="#636363"/><stop offset="0.6306" stop-color="#997300"/><stop offset="0.7071" stop-color="#997300"/><stop offset="0.7071" stop-color="#255E91"/><stop offset="0.7833" stop-color="#255E91"/><stop offset="0.7833" stop-color="#43682B"/><stop offset="0.8549" stop-color="#43682B"/><stop offset="0.8549" stop-color="#698ED0"/><stop offset="0.9192" stop-color="#698ED0"/><stop offset="0.9192" stop-color="#F1975A"/><stop offset="1.0000" stop-color="#F1975A"/></linearGradient>
<rect x="799.14" y="57.00" width="8.20" height="371.45" fill="url(#g37)"/>
<linearGradient id="g38" gradientUnits="userSpaceOnUse" x1="0" y1="428.45" x2="0" y2="362.10"><stop offset="0.0000" stop-color="#4472C4"/><stop offset="0.1771" stop-color="#4472C4"/><stop offset="0.1771" stop-color="#ED7D31"/><stop offset="0.4258" stop-color="#ED7D31"/><stop offset="0.4258" stop-color="#A5A5A5"/><stop offset="0.6112" stop-color="#A5A5A5"/><stop offset="0.6112" stop-color="#70AD47"/><stop offset="0.7920" stop-color="#70AD47"/><stop offset="0.7920" stop-color="#264478"/><stop offset="1.0000" stop-color="#264478"/></linearGradient>
<rect x="820.03" y="362.10" width="8.20" height="66.35" fill="url(#g38)"/>
<linearGradient id="g39" gradientUnits="userSpaceOnUse" x1="0" y1="428.45" x2="0" y2="148.20"><stop offset="0.0000" stop-color="#4472C4"/><stop offset="0.0669" stop-color="#4472C4"/><stop offset="0.0669" stop-color="#ED7D31"/><stop offset="0.1411" stop-color="#ED7D31"/><stop offset="0.1411" stop-color="#A5A5A5"/><stop offset="0.2082" stop-color="#A5A5A5"/><stop offset="0.2082" stop-color="#FFC000"/><stop offset="0.2664" stop-color="#FFC000"/><stop offset="0.2664" stop-color="#5B9BD5"/><stop offset="0.3299" stop-color="#5B9BD5"/><stop offset="0.3299" stop-color="#70AD47"/><stop offset="0.4112" stop-color="#70AD47"/><stop offset="0.4112" stop-color="#264478"/><stop offset="0.4773" stop-color="#264478"/><stop offset="0.4773" stop-color="#9E480E"/><stop offset="0.5540" stop-color="#9E480E"/><stop offset="0.5540" stop-color="#636363"/><stop offset="0.6257" stop-color="#636363"/><stop offset="0.6257" stop-color="#997300"/><stop offset="0.6953" stop-color="#997300"/><stop offset="0.6953" stop-color="#255E91"/><stop offset="0.7713" stop-color="#255E91"/><stop offset="0.7713" stop-color="#43682B"/><stop offset="0.8348" stop-color="#43682B"/><stop offset="0.8348" stop-color="#698ED0"/><stop offset="0.9226" stop-color="#698ED0"/><stop offset="0.9226" stop-color="#F1975A"/><stop offset="1.0000" stop-color="#F1975A"/></linearGradient>
<rect x="840.92" y="148.20" width="8.20" height="280.25" fill="url(#g39)"/>
<linearGradient id="g40" gradientUnits="userSpaceOnUse" x1="0" y1="428.45" x2="0" y2="235.30"><stop offset="0.0000" stop-color="#4472C4"/><stop offset="0.1126" stop-color="#4472C4"/><stop offset="0.1126" stop-color="#ED7D31"/><stop offset="0.2270" stop-color="#ED7D31"/><stop offset="0.2270" stop-color="#A5A5A5"/><stop offset="0.3264" stop-color="#A5A5A5"/><stop offset="0.3264" stop-color="#FFC000"/><stop offset="0.4108" stop-color="#FFC000"/><stop offset="0.4108" stop-color="#5B9BD5"/><stop offset="0.4942" stop-color="#5B9BD5"/><stop offset="0.4942" stop-color="#9E480E"/><stop offset="0.6309" stop-color="#9E480E"/><stop offset="0.6309" stop-color="#636363"/><stop offset="0.7220" stop-color="#636363"/><stop offset="0.7220" stop-color="#997300"/><stop offset="0.8302" stop-color="#997300"/><stop offset="0.8302" stop-color="#255E91"/><stop offset="0.9156" stop-color="#255E91"/><stop offset="0.9156" stop-color="#43682B"/><stop offset="1.0000" stop-color="#43682B"/></linearGradient>
<rect x="861.80" y="235.30" width="8.20" height="193.15" fill="url(#g40)"/>
<linearGradient id="g41" gradientUnits="userSpaceOnUse" x1="0" y1="428.45" x2="0" y2="286.00"><stop offset="0.0000" stop-color="#4472C4"/><stop offset="0.1267" stop-color="#4472C4"/><stop offset="0.1267" stop-color="#ED7D31"/><stop offset="0.2685" stop-color="#ED7D31"/><stop offset="0.2685" stop-color="#A5A5A5"/><stop offset="0.4391" stop-color="#A5A5A5"/><stop offset="0.4391" stop-color="#FFC000"/><stop offset="0.5921" stop-color="#FFC000"/><stop offset="0.5921" stop-color="#5B9BD5"/><stop offset="0.7073" stop-color="#5B9BD5"/><stop offset="0.7073" stop-color="#70AD47"/><stop offset="0.8757" stop-color="#70AD47"/><stop offset="0.8757" stop-color="#264478"/><stop offset="1.0000" stop-color="#264478"/></linearGradient>
<rect x="882.69" y="286.00" width="8.20" height="142.45" fill="url(#g41)"/>
<linearGradient id="g43" gradientUnits="userSpaceOnUse" x1="0" y1="428.45" x2="0" y2="279.20"><stop offset="0.0000" stop-color="#4472C4"/><stop offset="0.1377" stop-color="#4472C4"/><stop offset="0.1377" stop-color="#ED7D31"/><stop offset="0.2630" stop-color="#ED7D31"/><stop offset="0.2630" stop-color="#A5A5A5"/><stop offset="0.4224" stop-color="#A5A5A5"/><stop offset="0.4224" stop-color="#FFC000"/><stop offset="0.5705" stop-color="#FFC000"/><stop offset="0.5705" stop-color="#5B9BD5"/><stop offset="0.7085" stop-color="#5B9BD5"/><stop offset="0.7085" stop-color="#70AD47"/><stop offset="0.8606" stop-color="#70AD47"/><stop offset="0.8606" stop-color="#264478"/><stop offset="1.0000" stop-color="#264478"/></linearGradient>
<rect x="924.46" y="279.20" width="8.20" height="149.25" fill="url(#g43)"/>
<linearGradient id="g45" gradientUnits="userSpaceOnUse" x1="0" y1="428.45" x2="0" y2="387.90"><stop offset="0.0000" stop-color="#ED7D31"/><stop offset="0.2898" stop-color="#ED7D31"/><stop offset="0.2898" stop-color="#A5A5A5"/><stop offset="0.5561" stop-color="#A5A5A5"/><stop offset="0.5561" stop-color="#FFC000"/><stop offset="0.7830" stop-color="#FFC000"/><stop offset="0.7830" stop-color="#5B9BD5"/><stop offset="1.0000" stop-color="#5B9BD5"/></linearGradient>
<rect x="966.23" y="387.90" width="8.20" height="40.55" fill="url(#g45)"/>
<linearGradient id="g46" gradientUnits="userSpaceOnUse" x1="0" y1="428.45" x2="0" y2="126.80"><stop offset="0.0000" stop-color="#4472C4"/><stop offset="0.0748" stop-color="#4472C4"/><stop offset="0.0748" stop-color="#ED7D31"/><stop offset="0.1387" stop-color="#ED7D31"/><stop offset="0.1387" stop-color="#A5A5A5"/><stop offset="0.2090" stop-color="#A5A5A5"/><stop offset="0.2090" stop-color="#FFC000"/><stop offset="0.2713" stop-color="#FFC000"/><stop offset="0.2713" stop-color="#5B9BD5"/><stop offset="0.3313" stop-color="#5B9BD5"/><stop offset="0.3313" stop-color="#70AD47"/><stop offset="0.3970" stop-color="#70AD47"/><stop offset="0.3970" stop-color="#264478"/><stop offset="0.4799" stop-color="#264478"/><stop offset="0.4799" stop-color="#9E480E"/><stop offset="0.5422" stop-color="#9E480E"/><stop offset="0.5422" stop-color="#636363"/><stop offset="0.6128" stop-color="#636363"/><stop offset="0.6128" stop-color="#997300"/><stop offset="0.6834" stop-color="#997300"/><stop offset="0.6834" stop-color="#255E91"/><stop offset="0.7623" stop-color="#255E91"/><stop offset="0.7623" stop-color="#43682B"/><stop offset="0.8336" stop-color="#43682B"/><stop offset="0.8336" stop-color="#698ED0"/><stop offset="0.9251" stop-color="#698ED0"/><stop offset="0.9251" stop-color="#F1975A"/><stop offset="1.0000" stop-color="#F1975A"/></linearGradient>
<rect x="987.11" y="126.80" width="8.20" height="301.65" fill="url(#g46)"/>
<linearGradient id="g47" gradientUnits="userSpaceOnUse" x1="0" y1="428.45" x2="0" y2="99.90"><stop offset="0.0000" stop-color="#4472C4"/><stop offset="0.0686" stop-color="#4472C4"/><stop offset="0.0686" stop-color="#ED7D31"/><stop offset="0.1310" stop-color="#ED7D31"/><stop offset="0.1310" stop-color="#A5A5A5"/><stop offset="0.1828" stop-color="#A5A5A5"/><stop offset="0.1828" stop-color="#FFC000"/><stop offset="0.2576" stop-color="#FFC000"/><stop offset="0.2576" stop-color="#5B9BD5"/><stop offset="0.3182" stop-color="#5B9BD5"/><stop offset="0.3182" stop-color="#70AD47"/><stop offset="0.4080" stop-color="#70AD47"/><stop offset="0.4080" stop-color="#264478"/><stop offset="0.4826" stop-color="#264478"/><stop offset="0.4826" stop-color="#9E480E"/><stop offset="0.5526" stop-color="#9E480E"/><stop offset="0.5526" stop-color="#636363"/><stop offset="0.6290" stop-color="#636363"/><stop offset="0.6290" stop-color="#997300"/><stop offset="0.6898" stop-color="#997300"/><stop offset="0.6898" stop-color="#255E91"/><stop offset="0.7480" stop-color="#255E91"/><stop offset="0.7480" stop-color="#43682B"/><stop offset="0.8079" stop-color="#43682B"/><stop offset="0.8079" stop-color="#698ED0"/><stop offset="0.9096" stop-color="#698ED0"/><stop offset="0.9096" stop-color="#F1975A"/><stop offset="1.0000" stop-color="#F1975A"/></linearGradient>
<rect x="1008.00" y="99.90" width="8.20" height="328.55" fill="url(#g47)"/>
<text x="32.00" y="437.30" font-size="5.9" fill="#505050" text-anchor="end" transform="rotate(-45 32.00 437.30)">Andrea S.</text>
<text x="52.89" y="437.30" font-size="5.9" fill="#505050" text-anchor="end" transform="rotate(-45 52.89 437.30)">Andreas W.</text>
<text x="73.77" y="437.30" font-size="5.9" fill="#505050" text-anchor="end" transform="rotate(-45 73.77 437.30)">Angela W.</text>
<text x="94.66" y="437.30" font-size="5.9" fill="#505050" text-anchor="end" transform="rotate(-45 94.66 437.30)">Anja B.</text>
<text x="115.54" y="437.30" font-size="5.9" fill="#505050" text-anchor="end" transform="rotate(-45 115.54 437.30)">Anja S.</text>
<text x="136.43" y="437.30" font-size="5.9" fill="#505050" text-anchor="end" transform="rotate(-45 136.43 437.30)">Armin P.</text>
<text x="157.31" y="437.30" font-size="5.9" fill="#505050" text-anchor="end" transform="rotate(-45 157.31 437.30)">Annette E.</text>
<text x="178.20" y="437.30" font-size="5.9" fill="#505050" text-anchor="end" transform="rotate(-45 178.20 437.30)">Annette R.</text>
<text x="199.08" y="437.30" font-size="5.9" fill="#505050" text-anchor="end" transform="rotate(-45 199.08 437.30)">Axel B.</text>
<text x="219.97" y="437.30" font-size="5.9" fill="#505050" text-anchor="end" transform="rotate(-45 219.97 437.30)">Barbara W.</text>
<text x="240.85" y="437.30" font-size="5.9" fill="#505050" text-anchor="end" transform="rotate(-45 240.85 437.30)">Bernd K.</text>
<text x="261.74" y="437.30" font-size="5.9" fill="#505050" text-anchor="end" transform="rotate(-45 261.74 437.30)">Bernhard C.</text>
<text x="282.62" y="437.30" font-size="5.9" fill="#505050" text-anchor="end" transform="rotate(-45 282.62 437.30)">Birgit C.</text>
<text x="303.50" y="437.30" font-size="5.9" fill="#505050" text-anchor="end" transform="rotate(-45 303.50 437.30)">Brigitte H.</text>
<text x="324.39" y="437.30" font-size="5.9" fill="#505050" text-anchor="end" transform="rotate(-45 324.39 437.30)">Christiane P.</text>
<text x="345.28" y="437.30" font-size="5.9" fill="#505050" text-anchor="end" transform="rotate(-45 345.28 437.30)">Dominique H.</text>
<text x="366.16" y="437.30" font-size="5.9" fill="#505050" text-anchor="end" transform="rotate(-45 366.16 437.30)">Eva E.</text>
<text x="387.05" y="437.30" font-size="5.9" fill="#505050" text-anchor="end" transform="rotate(-45 387.05 437.30)">Isabell N.</text>
<text x="407.93" y="437.30" font-size="5.9" fill="#505050" text-anchor="end" transform="rotate(-45 407.93 437.30)">Jasmin B.</text>
<text x="428.82" y="437.30" font-size="5.9" fill="#505050" text-anchor="end" transform="rotate(-45 428.82 437.30)">Jessica N.</text>
<text x="449.70" y="437.30" font-size="5.9" fill="#505050" text-anchor="end" transform="rotate(-45 449.70 437.30)">Joanna R.</text>
<text x="470.59" y="437.30" font-size="5.9" fill="#505050" text-anchor="end" transform="rotate(-45 470.59 437.30)">Josephine P.</text>
<text x="491.47" y="437.30" font-size="5.9" fill="#505050" text-anchor="end" transform="rotate(-45 491.47 437.30)">Jürgen W.</text>
<text x="512.36" y="437.30" font-size="5.9" fill="#505050" text-anchor="end" transform="rotate(-45 512.36 437.30)">Loredana A.</text>
<text x="533.24" y="437.30" font-size="5.9" fill="#505050" text-anchor="end" transform="rotate(-45 533.24 437.30)">Lucie D.</text>
<text x="554.12" y="437.30" font-size="5.9" fill="#505050" text-anchor="end" transform="rotate(-45 554.12 437.30)">Margit G.</text>
<text x="575.01" y="437.30" font-size="5.9" fill="#505050" text-anchor="end" transform="rotate(-45 575.01 437.30)">Marion A.</text>
<text x="595.90" y="437.30" font-size="5.9" fill="#505050" text-anchor="end" transform="rotate(-45 595.90 437.30)">Marion Z.</text>
<text x="616.78" y="437.30" font-size="5.9" fill="#505050" text-anchor="end" transform="rotate(-45 616.78 437.30)">Markus S.</text>
<text x="637.67" y="437.30" font-size="5.9" fill="#505050" text-anchor="end" transform="rotate(-45 637.67 437.30)">Martina L.</text>
<text x="658.55" y="437.30" font-size="5.9" fill="#505050" text-anchor="end" transform="rotate(-45 658.55 437.30)">Mascha K.</text>
<text x="679.44" y="437.30" font-size="5.9" fill="#505050" text-anchor="end" transform="rotate(-45 679.44 437.30)">Michale P.</text>
<text x="700.32" y="437.30" font-size="5.9" fill="#505050" text-anchor="end" transform="rotate(-45 700.32 437.30)">Nico G.</text>
<text x="721.21" y="437.30" font-size="5.9" fill="#505050" text-anchor="end" transform="rotate(-45 721.21 437.30)">Nicole H.</text>
<text x="742.09" y="437.30" font-size="5.9" fill="#505050" text-anchor="end" transform="rotate(-45 742.09 437.30)">Philipp L.</text>
<text x="762.98" y="437.30" font-size="5.9" fill="#505050" text-anchor="end" transform="rotate(-45 762.98 437.30)">Olda H.</text>
<text x="783.86" y="437.30" font-size="5.9" fill="#505050" text-anchor="end" transform="rotate(-45 783.86 437.30)">Reinhard B.</text>
<text x="804.75" y="437.30" font-size="5.9" fill="#505050" text-anchor="end" transform="rotate(-45 804.75 437.30)">Roswitha M.</text>
<text x="825.63" y="437.30" font-size="5.9" fill="#505050" text-anchor="end" transform="rotate(-45 825.63 437.30)">Sabrina L.</text>
<text x="846.52" y="437.30" font-size="5.9" fill="#505050" text-anchor="end" transform="rotate(-45 846.52 437.30)">Sabine L.</text>
<text x="867.40" y="437.30" font-size="5.9" fill="#505050" text-anchor="end" transform="rotate(-45 867.40 437.30)">Susanne S.</text>
<text x="888.29" y="437.30" font-size="5.9" fill="#505050" text-anchor="end" transform="rotate(-45 888.29 437.30)">Tamara J.</text>
<text x="909.17" y="437.30" font-size="5.9" fill="#505050" text-anchor="end" transform="rotate(-45 909.17 437.30)">Thomas S.</text>
<text x="930.06" y="437.30" font-size="5.9" fill="#505050" text-anchor="end" transform="rotate(-45 930.06 437.30)">Ulrike D.</text>
<text x="950.94" y="437.30" font-size="5.9" fill="#505050" text-anchor="end" transform="rotate(-45 950.94 437.30)">Verena M.</text>
<text x="971.83" y="437.30" font-size="5.9" fill="#505050" text-anchor="end" transform="rotate(-45 971.83 437.30)">Veronika S.</text>
<text x="992.71" y="437.30" font-size="5.9" fill="#505050" text-anchor="end" transform="rotate(-45 992.71 437.30)">Waltraud F.</text>
<text x="1013.60" y="437.30" font-size="5.9" fill="#505050" text-anchor="end" transform="rotate(-45 1013.60 437.30)">Wolfgang S.</text>
<rect x="0" y="460.5" width="1024" height="2.5" fill="#eeeeee"/>
</svg></body></html>
